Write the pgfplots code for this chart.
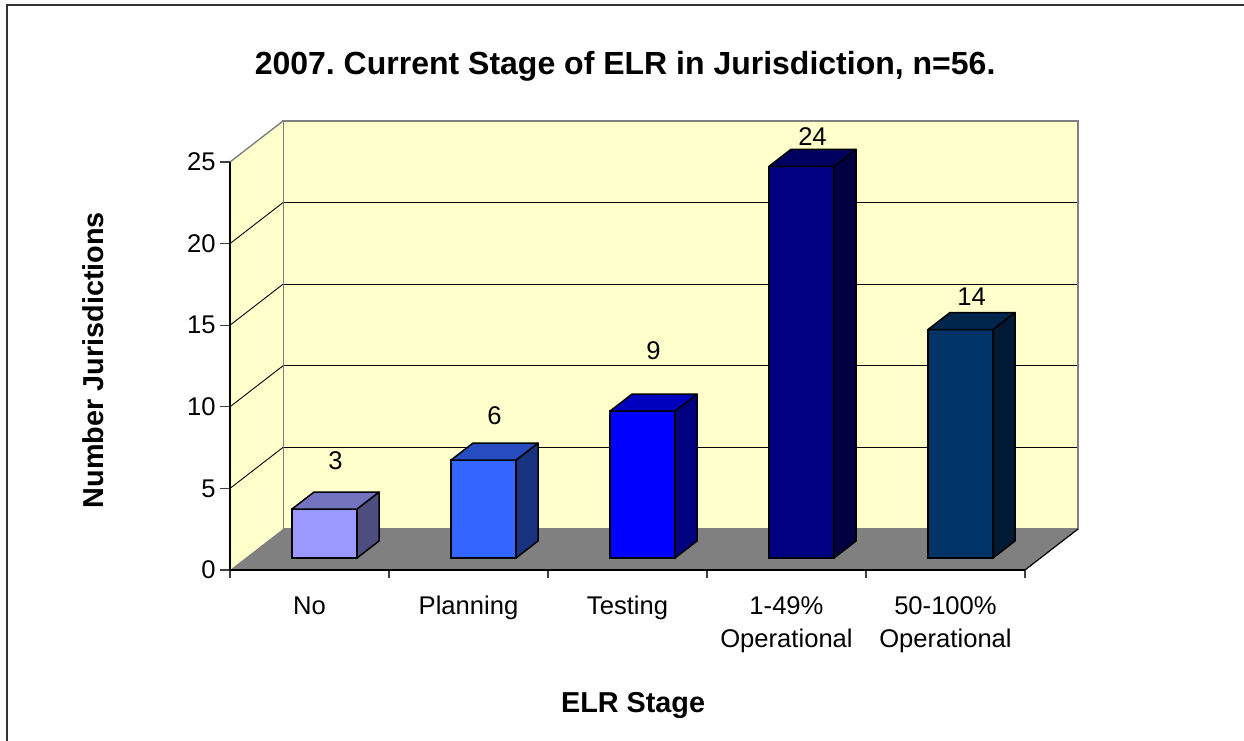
\documentclass[border=0pt]{standalone}
\usepackage{pgfplots}
\pgfplotsset{compat=1.18}
\usepackage{pgfplotstable}
\usepackage{fontspec}
\setmainfont{Liberation Sans}
\frenchspacing

\definecolor{wall}{HTML}{FFFFCC}
\definecolor{floorg}{HTML}{808080}
\definecolor{f0}{HTML}{9999FF}\definecolor{t0}{HTML}{7373BF}\definecolor{s0}{HTML}{4D4D80}
\definecolor{f1}{HTML}{3366FF}\definecolor{t1}{HTML}{264CBF}\definecolor{s1}{HTML}{1A3380}
\definecolor{f2}{HTML}{0000FF}\definecolor{t2}{HTML}{0000BF}\definecolor{s2}{HTML}{000080}
\definecolor{f3}{HTML}{000080}\definecolor{t3}{HTML}{000060}\definecolor{s3}{HTML}{000040}
\definecolor{f4}{HTML}{003366}\definecolor{t4}{HTML}{00264C}\definecolor{s4}{HTML}{001A33}

\newcommand{\tickfont}{\fontsize{12.8}{16.5}\selectfont}

% x = category index, val = number of jurisdictions, lab = label offset (px above bar)
\pgfplotstableread{
x val lab
0 3 48
1 6 44
2 9 60
3 24 30
4 14 33
}\stagedata

\pgfplotsset{common/.style={scale only axis, width=397.5pt, height=204pt,
  xmin=-0.5, xmax=4.5, ymin=0, ymax=25, anchor=south west, clip=false}}

\begin{document}
\begin{tikzpicture}
% back wall
\begin{axis}[common, at={(26.5pt,20.5pt)},
  axis background/.style={fill=wall},
  axis line style={draw=gray, line width=0.7pt},
  xtick=\empty, ytick={5,10,15,20}, yticklabels={},
  major tick length=0pt, ymajorgrids,
  grid style={black, line width=0.5pt}]
\end{axis}

% front frame, walls, floor, labels
\begin{axis}[common, at={(0pt,0pt)}, axis on top,
  axis x line*=bottom, axis y line*=left,
  axis line style={black, line width=0.6pt, -},
  ytick={0,5,...,25}, tick align=outside, major tick length=5pt,
  ytick style={black!75, line width=0.6pt},
  xtick={0,1,2,3,4}, xtick style={draw=none},
  xticklabels={No,Planning,Testing,{1-49\%\\Operational},{50-100\%\\Operational}},
  xticklabel style={align=center, font=\tickfont, inner sep=0pt, anchor=north, yshift=-8pt},
  yticklabel style={font=\tickfont, inner sep=0pt, anchor=east, xshift=-2pt},
  /pgf/number format/assume math mode=true,
  title={2007. Current Stage of ELR in Jurisdiction, n=56.},
  title style={at={(axis description cs:0.497,1.206)}, anchor=center,
    font=\fontsize{16}{19}\selectfont\bfseries},
  xlabel={ELR Stage},
  xlabel style={at={(axis description cs:0.507,-0.331)}, anchor=center,
    font=\fontsize{14.4}{17}\selectfont\bfseries},
  ylabel={Number Jurisdictions},
  every axis y label/.style={at={(axis description cs:-0.1723,0.5147)}, anchor=center, rotate=90,
    font=\fontsize{14.4}{17}\selectfont\bfseries},
]
  % left wall
  \fill[wall] (axis cs:-0.5,0) -- (axis cs:-0.5,25) -- ([shift={(26.5pt,20.5pt)}]axis cs:-0.5,25) -- ([shift={(26.5pt,20.5pt)}]axis cs:-0.5,0) -- cycle;
  \draw[gray, line width=0.7pt] (axis cs:-0.5,25) -- ([shift={(26.5pt,20.5pt)}]axis cs:-0.5,25);
  \pgfplotsinvokeforeach{5,10,15,20}{
    \draw[black, line width=0.45pt] (axis cs:-0.5,#1) -- ([shift={(26.5pt,20.5pt)}]axis cs:-0.5,#1);
  }
  % floor
  \fill[floorg] (axis cs:-0.5,0) -- (axis cs:4.5,0) -- ([shift={(26.5pt,20.5pt)}]axis cs:4.5,0) -- ([shift={(26.5pt,20.5pt)}]axis cs:-0.5,0) -- cycle;
  \draw[black, line width=0.6pt] (axis cs:4.5,0) -- ([shift={(26.5pt,20.5pt)}]axis cs:4.5,0);
  % category boundary ticks
  \pgfplotsinvokeforeach{-0.5,0.5,1.5,2.5,3.5,4.5}{
    \draw[black!75, line width=0.6pt] (axis cs:#1,0) -- ([yshift=-4pt]axis cs:#1,0);
  }
\end{axis}

% bars
\begin{axis}[common, at={(7.5pt,6pt)}, hide axis]
  \pgfplotsinvokeforeach{0,1,2,3,4}{
    \pgfplotstablegetelem{#1}{val}\of\stagedata \let\myv\pgfplotsretval
    \pgfplotstablegetelem{#1}{lab}\of\stagedata \let\myl\pgfplotsretval
    \edef\temp{%
      \noexpand\addplot[ybar, bar width=32.5pt, bar shift=0pt, draw=black, line width=0.75pt, fill=f#1] coordinates {(#1,\myv)};
      \noexpand\filldraw[fill=s#1, draw=black, line width=0.75pt, line join=round]
        ([xshift=16.25pt]axis cs:#1,0) -- ([xshift=16.25pt]axis cs:#1,\myv) -- ([shift={(27.25pt,8.5pt)}]axis cs:#1,\myv) -- ([shift={(27.25pt,8.5pt)}]axis cs:#1,0) -- cycle;
      \noexpand\filldraw[fill=t#1, draw=black, line width=0.75pt, line join=round]
        ([xshift=-16.25pt]axis cs:#1,\myv) -- ([xshift=16.25pt]axis cs:#1,\myv) -- ([shift={(27.25pt,8.5pt)}]axis cs:#1,\myv) -- ([shift={(-5.25pt,8.5pt)}]axis cs:#1,\myv) -- cycle;
      \noexpand\node[font=\noexpand\tickfont, inner sep=0pt, anchor=center] at ([shift={(5.5pt,\myl*0.5pt)}]axis cs:#1,\myv) {\myv};
    }\temp
  }
\end{axis}

% outer border
\draw[line width=1.2pt, black!80] (-111.5pt,-90pt) -- (-111.5pt,282.5pt) -- (512pt,282.5pt);
\pgfresetboundingbox
\path[use as bounding box] (-115pt,-85pt) rectangle (507pt,285pt);
\end{tikzpicture}
\end{document}
